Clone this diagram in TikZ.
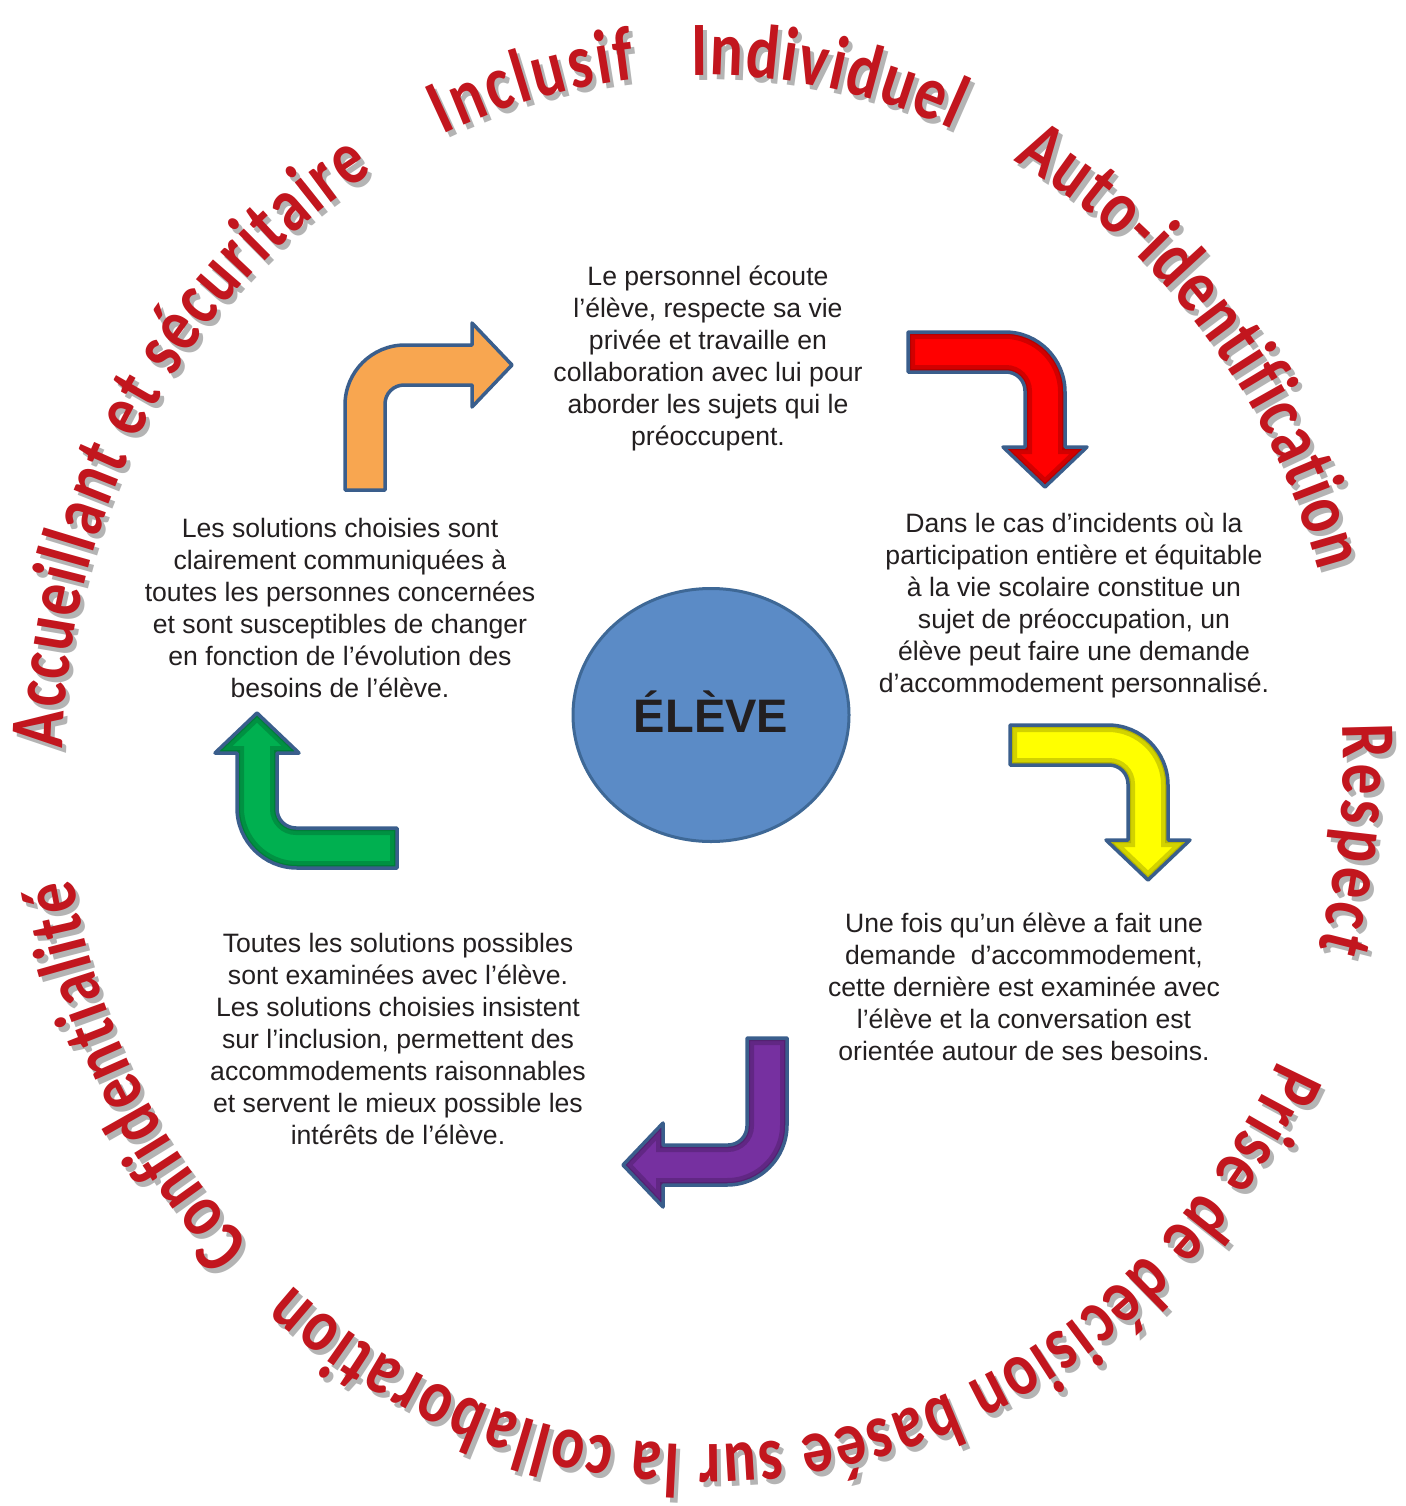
\documentclass[tikz,border=0pt]{standalone}
\usepackage{fontspec}
\setmainfont{Liberation Sans}
\newfontfamily\wordfont{Carlito}[FakeStretch=0.8]
\usepackage{xcolor}
\usetikzlibrary{shapes.geometric,decorations.text}

\definecolor{wordred}{RGB}{194,22,30}
\definecolor{wordshadow}{RGB}{180,180,180}
\definecolor{bodytext}{RGB}{35,31,32}
\definecolor{elevefill}{RGB}{91,139,198}
\definecolor{eleveline}{RGB}{62,104,150}
\definecolor{arrowline}{RGB}{58,94,140}
\definecolor{arroworange}{RGB}{248,166,80}
\definecolor{arrowred}{RGB}{255,0,0}
\definecolor{arrowyellow}{RGB}{255,255,0}
\definecolor{arrowpurple}{RGB}{118,48,160}
\definecolor{arrowgreen}{RGB}{0,176,80}

\newcommand{\wordstyle}{\wordfont\bfseries\fontsize{77}{77}\selectfont}

\newcommand{\ringtext}[3]{%
  \path[decorate, decoration={text along path, text align=fit to path, text color=wordshadow,
      text={|\wordstyle|#3}}]
    ([shift={(4,-5)}]ring) ++(#1:640 and 685) arc[start angle=#1, end angle=#2, x radius=640, y radius=685];
  \path[decorate, decoration={text along path, text align=fit to path, text color=wordred,
      text={|\wordstyle|#3}}]
    (ring) ++(#1:640 and 685) arc[start angle=#1, end angle=#2, x radius=640, y radius=685];
}

\newcommand{\arrowpath}[2]{(0,0) -- (0,#1-60) arc[start angle=180, end angle=90, radius=60]
  -- (#2,#1) -- (#2,#1+22) -- (#2+40,#1-20) -- (#2,#1-62) -- (#2,#1-40)
  -- (59,#1-40) arc[start angle=90, end angle=180, radius=19] -- (40,0) -- cycle}

\newcommand{\bentarrow}[5][.35]{%
  \begin{scope}[#2]
    \fill[#3] \arrowpath{#4}{#5};
    \begin{scope}
      \clip \arrowpath{#4}{#5};
      \draw[#3!50!black, line width=14, opacity=#1] \arrowpath{#4}{#5};
      \draw[#3!50!black, line width=6, opacity=#1] \arrowpath{#4}{#5};
    \end{scope}
    \draw[arrowline, line width=3.5, line join=round] \arrowpath{#4}{#5};
  \end{scope}}

\tikzset{
  textblock/.style={align=center, text=bodytext, inner sep=0pt,
    font=\fontsize{26.6}{32}\selectfont},
  centre/.style={ellipse, draw=eleveline, fill=elevefill, line width=3,
    minimum width=276, minimum height=253, text=bodytext,
    text height=34pt, text depth=0pt,
    font=\bfseries\fontsize{47}{47}\selectfont}
}

\begin{document}
\begin{tikzpicture}[x=1pt, y=1pt]
  \fill[white] (0,0) rectangle (1405,-1506);
  \useasboundingbox (0,0) rectangle (1405,-1506);

  \coordinate (ring) at (703,-760);
  \ringtext{114}{96}{Inclusif}
  \ringtext{91}{67}{Individuel}
  \ringtext{61}{16}{Auto-identification}
  \ringtext{3}{-16}{Respect}
  \ringtext{-26}{-130}{Prise de décision basée sur la collaboration}
  \ringtext{225}{190}{Confidentialité}
  \ringtext{179}{121}{Accueillant et sécuritaire}

  \node[centre] (eleve) at (711,-715) {ÉLÈVE};

  \node[textblock] (ecoute) at (708,-358) {Le personnel écoute\\
    l’élève, respecte sa vie\\ privée et travaille en\\
    collaboration avec lui pour\\ aborder les sujets qui le\\ préoccupent.};
  \node[textblock] (incidents) at (1074,-605) {Dans le cas d’incidents où la\\
    participation entière et équitable\\ à la vie scolaire constitue un\\
    sujet de préoccupation, un\\ élève peut faire une demande\\
    d’accommodement personnalisé.};
  \node[textblock] (demande) at (1024,-987) {Une fois qu’un élève a fait une\\
    demande \ d’accommodement,\\ cette dernière est examinée avec\\
    l’élève et la conversation est\\ orientée autour de ses besoins.};
  \node[textblock] (examen) at (398,-1039) {Toutes les solutions possibles\\
    sont examinées avec l’élève.\\ Les solutions choisies insistent\\
    sur l’inclusion, permettent des\\ accommodements raisonnables\\
    et servent le mieux possible les\\ intérêts de l’élève.};
  \node[textblock] (communication) at (340,-608) {Les solutions choisies sont\\
    clairement communiquées à\\ toutes les personnes concernées\\
    et sont susceptibles de changer\\ en fonction de l’évolution des\\
    besoins de l’élève.};

  \bentarrow[0]{shift={(345,-490)}}{arroworange}{145}{127}
  \bentarrow{shift={(908,-332)}, rotate=-90}{arrowred}{157}{115}
  \bentarrow{shift={(1010,-725)}, rotate=-90}{arrowyellow}{158}{115}
  \bentarrow{shift={(787,-1038)}, rotate=180}{arrowpurple}{147}{124}
  \bentarrow{shift={(397,-868)}, rotate=90}{arrowgreen}{160}{115}
\end{tikzpicture}
\end{document}
